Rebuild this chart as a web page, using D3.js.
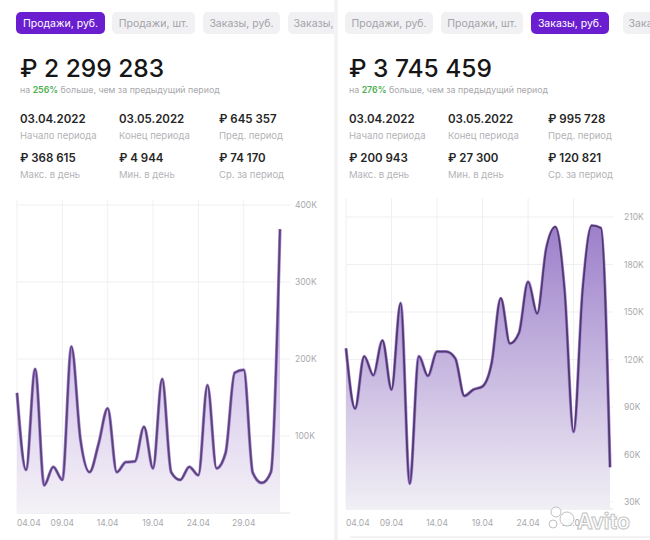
<!DOCTYPE html>
<html><head><meta charset="utf-8">
<script src="https://cdn.jsdelivr.net/npm/d3@7"></script>
<style>
html,body{margin:0;padding:0;background:#fff;}
svg{display:block;font-family:Inter,"Noto Sans",sans-serif;}
</style></head>
<body><svg id="c" width="650" height="540"></svg>
<script>
// ---------- data ----------
const tabs = ["Продажи, руб.", "Продажи, шт.", "Заказы, руб.", "Заказы, шт."];
const days = ["04.04","05.04","06.04","07.04","08.04","09.04","10.04","11.04","12.04","13.04",
  "14.04","15.04","16.04","17.04","18.04","19.04","20.04","21.04","22.04","23.04",
  "24.04","25.04","26.04","27.04","28.04","29.04","30.04","01.05","02.05","03.05"];
const tickDays = ["04.04","09.04","14.04","19.04","24.04","29.04"];
const salesRub = [156000,56000,187000,36000,60000,43000,216000,95000,53000,90000,
  136000,53000,66000,67000,112000,58000,174000,53000,43000,60000,
  49000,166000,58000,78000,182000,186000,52000,39000,53000,368615];
const ordersRub = [127000,89000,122000,110000,132000,101000,155600,41600,122000,109600,
  125000,125000,120700,97000,101000,103000,117600,158700,130000,136600,
  169000,149000,190000,203700,164000,74300,164000,204500,203000,52000];
const salesTicks = [100000,200000,300000,400000];
const ordersTicks = [30000,60000,90000,120000,150000,180000,210000];
const totals = ["₽ 2 299 283", "₽ 3 745 459"];
const growth = ["256%", "276%"];
const activeTab = [0, 2];
const statValues = [
  ["03.04.2022","03.05.2022","₽  645 357","₽ 368 615","₽ 4 944","₽ 74 170"],
  ["03.04.2022","03.05.2022","₽  995 728","₽ 200 943","₽ 27 300","₽ 120 821"]
];
const statLabels = ["Начало периода","Конец периода","Пред. период","Макс. в день","Мин. в день","Ср. за период"];

// ---------- drawing ----------
const svg = d3.select("#c");
const defs = svg.append("defs");

[[0,334],[338,312]].forEach((p,i)=>{
  defs.append("clipPath").attr("id","pc"+i).append("rect")
    .attr("x",p[0]).attr("y",0).attr("width",p[1]).attr("height",540);
});
svg.append("rect").attr("x",334).attr("y",0).attr("width",4).attr("height",540).attr("fill","#f3f3f5");

const panels = [
  {tx:20, pills:[[16,89],[112,83],[203,77],[288,70]], data:salesRub, ticks:salesTicks,
   x:[17,280], gridR:290, yDom:[0,400000], yR:[513,205], bottom:513, top:200, labX:295,
   stroke:"#5a4472", g0:"#b89be3", g1:"#f4f2f6"},
  {tx:349, pills:[[345,88],[441,82],[531,78],[623,70]], data:ordersRub, ticks:ordersTicks,
   x:[346,610], gridR:613, yDom:[30000,210000], yR:[502,217], bottom:509, top:198, labX:624,
   stroke:"#4f3a68", g0:"#9a7cc9", g1:"#f1eff5"}
];

panels.forEach((P,pi)=>{
  const g = svg.append("g").attr("clip-path",`url(#pc${pi})`);

  tabs.forEach((t,ti)=>{
    const [px,pw] = P.pills[ti];
    const act = ti===activeTab[pi];
    g.append("rect").attr("x",px).attr("y",12).attr("width",pw).attr("height",22).attr("rx",5)
      .attr("fill",act?"#6a1ed0":"#f1f1f4");
    g.append("text").attr("x",px+pw/2).attr("y",27).attr("text-anchor","middle")
      .attr("font-size",10.5).attr("fill",act?"#fff":"#a3a3a8").text(t);
  });

  g.append("text").attr("x",P.tx).attr("y",77).attr("font-size",24.5).attr("font-weight",500)
    .attr("fill","#161616").text(totals[pi]);
  const sub = g.append("text").attr("x",P.tx).attr("y",93).attr("font-size",8.8).attr("fill","#a8a8ac");
  sub.append("tspan").text("на ");
  sub.append("tspan").attr("fill","#4caf50").attr("font-weight",600).text(growth[pi]);
  sub.append("tspan").text(" больше, чем за предыдущий период");

  const colX = [P.tx, P.tx+99, P.tx+199];
  statValues[pi].forEach((v,si)=>{
    const cx = colX[si%3], row = Math.floor(si/3);
    g.append("text").attr("x",cx).attr("y",123+row*39).attr("font-size",11.5).attr("font-weight",600)
      .attr("fill","#262626").text(v);
    g.append("text").attr("x",cx).attr("y",139+row*39).attr("font-size",9.5)
      .attr("fill","#b3b3b7").text(statLabels[si]);
  });

  const x = d3.scalePoint().domain(days).range(P.x);
  const y = d3.scaleLinear().domain(P.yDom).range(P.yR);

  const gg = g.append("g");
  gg.selectAll(".hg").data(P.ticks).join("line")
    .attr("x1",P.x[0]).attr("x2",P.gridR).attr("y1",d=>y(d)).attr("y2",d=>y(d))
    .attr("stroke","#efeff2").attr("stroke-width",1);
  gg.selectAll(".vg").data(tickDays).join("line")
    .attr("x1",d=>x(d)).attr("x2",d=>x(d)).attr("y1",P.top).attr("y2",P.bottom)
    .attr("stroke","#f0f0f3").attr("stroke-width",1);
  gg.append("line").attr("x1",P.x[0]).attr("x2",P.gridR).attr("y1",P.bottom).attr("y2",P.bottom)
    .attr("stroke","#e4e4e8");

  const gid = "grad"+pi;
  const lg = defs.append("linearGradient").attr("id",gid).attr("gradientUnits","userSpaceOnUse")
    .attr("x1",0).attr("x2",0).attr("y1",P.yR[1]).attr("y2",P.bottom);
  lg.append("stop").attr("offset","0%").attr("stop-color",P.g0);
  lg.append("stop").attr("offset","100%").attr("stop-color",P.g1);

  const area = d3.area().x((d,i)=>x(days[i])).y0(P.bottom).y1(d=>y(d)).curve(d3.curveMonotoneX);
  const line = d3.line().x((d,i)=>x(days[i])).y(d=>y(d)).curve(d3.curveMonotoneX);

  g.append("path").datum(P.data).attr("d",area).attr("fill",`url(#${gid})`);
  g.append("path").datum(P.data).attr("d",line).attr("fill","none")
    .attr("stroke","#a785dc").attr("stroke-width",3.2).attr("stroke-linejoin","round");
  g.append("path").datum(P.data).attr("d",line).attr("fill","none")
    .attr("stroke",P.stroke).attr("stroke-width",1.8).attr("stroke-linejoin","round");

  g.selectAll(".yl").data(P.ticks).join("text")
    .attr("x",P.labX).attr("y",d=>y(d)+3).attr("font-size",8.5).attr("fill","#a9a9ae")
    .text(d=>(d/1000)+"K");
  g.selectAll(".xl").data(tickDays).join("text")
    .attr("x",d=>x(d)).attr("y",526).attr("font-size",8.5).attr("fill","#a9a9ae")
    .attr("text-anchor",(d,i)=>i===0?"start":"middle")
    .text(d=>d);
});

svg.append("line").attr("x1",350).attr("x2",650).attr("y1",537).attr("y2",537).attr("stroke","#e6e6e9");

// watermark
const wm = svg.append("g").attr("opacity",0.9);
wm.append("circle").attr("cx",556).attr("cy",512).attr("r",5).attr("fill","#fff").attr("stroke","#bbb");
wm.append("circle").attr("cx",567).attr("cy",519).attr("r",7).attr("fill","#fff").attr("stroke","#bbb");
wm.append("circle").attr("cx",553).attr("cy",524).attr("r",4).attr("fill","#fff").attr("stroke","#bbb");
wm.append("text").attr("x",577).attr("y",529).attr("font-size",21).attr("font-weight",700)
  .attr("fill","#fff").attr("stroke","#bdbdbd").attr("stroke-width",1).text("Avito");
</script></body></html>
